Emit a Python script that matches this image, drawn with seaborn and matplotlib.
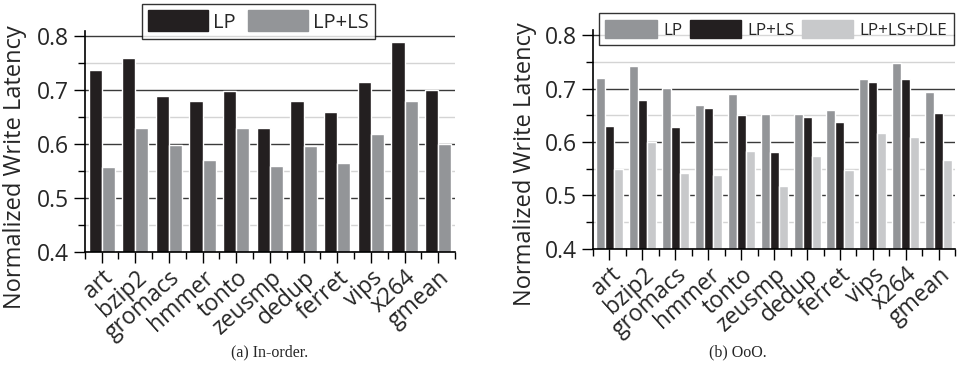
import pandas as pd
import matplotlib.pyplot as plt
import seaborn as sns
from matplotlib.patches import Patch
from matplotlib.ticker import MultipleLocator

benchmarks = ['art', 'bzip2', 'gromacs', 'hmmer', 'tonto', 'zeusmp',
              'dedup', 'ferret', 'vips', 'x264', 'gmean']

# (a) In-order
inorder_lp = [0.737, 0.760, 0.689, 0.680, 0.698, 0.630, 0.679, 0.659, 0.715, 0.790, 0.701]
inorder_lpls = [0.557, 0.630, 0.599, 0.571, 0.630, 0.560, 0.597, 0.564, 0.619, 0.680, 0.600]

# (b) OoO
ooo_lp = [0.720, 0.742, 0.701, 0.669, 0.689, 0.652, 0.652, 0.659, 0.718, 0.748, 0.694]
ooo_lpls = [0.630, 0.679, 0.628, 0.664, 0.651, 0.581, 0.647, 0.637, 0.712, 0.717, 0.654]
ooo_dle = [0.550, 0.600, 0.542, 0.538, 0.583, 0.517, 0.574, 0.548, 0.616, 0.610, 0.567]

BLACK = '#231f20'
GRAY = '#939598'
LIGHT = '#c8c9cb'


def long_form(series):
    rows = []
    for name, vals in series.items():
        for b, v in zip(benchmarks, vals):
            rows.append({'bench': b, 'config': name, 'value': v})
    return pd.DataFrame(rows)


sns.set_style('white')
plt.rcParams['font.family'] = ['Open Sans', 'DejaVu Sans']


def style_axes(ax):
    ax.set_ylim(0.4, 0.81)
    ax.set_xlim(-0.5, len(benchmarks) - 0.5)
    ax.yaxis.set_major_locator(MultipleLocator(0.1))
    ax.yaxis.set_minor_locator(MultipleLocator(0.05))
    ax.set_yticks([0.4, 0.5, 0.6, 0.7, 0.8])
    ax.set_yticklabels(['0.4', '0.5', '0.6', '0.7', '0.8'], fontsize=16.5)
    ax.set_xticks(range(len(benchmarks)))
    ax.set_xticks([i - 0.5 for i in range(len(benchmarks) + 1)], minor=True)
    ax.set_xticklabels(benchmarks, rotation=42, ha='right', rotation_mode='anchor',
                       fontsize=16.5)
    ax.tick_params(axis='both', which='major', direction='out', length=8, width=1,
                   color='black', bottom=True, left=True)
    ax.tick_params(axis='x', which='major', pad=2)
    ax.tick_params(axis='both', which='minor', direction='out', length=5, width=1,
                   color='black', bottom=True, left=True)
    ax.grid(False)
    ax.grid(axis='y', which='major', color='#3a3a3a', linewidth=1.0)
    ax.grid(axis='y', which='minor', color='#d4d4d4', linewidth=1.0)
    ax.set_axisbelow(True)
    for s in ['top', 'right']:
        ax.spines[s].set_visible(False)
    for s in ['left', 'bottom']:
        ax.spines[s].set_color('black')
        ax.spines[s].set_linewidth(1.2)
    ax.set_xlabel('')
    ax.set_ylabel('Normalized Write Latency', fontsize=17)


fig = plt.figure(figsize=(9.64, 3.76), dpi=100)

# left panel
ax1 = fig.add_axes([0.088, 0.330, 0.384, 0.588])
df1 = long_form({'LP': inorder_lp, 'LP+LS': inorder_lpls})
sns.barplot(data=df1, x='bench', y='value', hue='config', order=benchmarks,
            palette=[BLACK, GRAY], width=0.78, saturation=1, ax=ax1, legend=False)
style_axes(ax1)
ax1.yaxis.set_label_coords(-0.155, 0.385)
leg1 = fig.legend(handles=[Patch(color=BLACK, label='LP'), Patch(color=GRAY, label='LP+LS')],
                  loc='upper left', bbox_to_anchor=(0.147, 0.989), ncol=2, fontsize=14.5,
                  frameon=True, fancybox=False, handlelength=3.0, handleheight=1.25,
                  columnspacing=0.6, handletextpad=0.25, borderpad=0.3, borderaxespad=0)
leg1.get_frame().set_edgecolor('black')
leg1.get_frame().set_linewidth(1.0)

# right panel
ax2 = fig.add_axes([0.615, 0.338, 0.376, 0.583])
df2 = long_form({'LP': ooo_lp, 'LP+LS': ooo_lpls, 'LP+LS+DLE': ooo_dle})
sns.barplot(data=df2, x='bench', y='value', hue='config', order=benchmarks,
            palette=[GRAY, BLACK, LIGHT], width=0.82, saturation=1, ax=ax2, legend=False)
style_axes(ax2)
ax2.yaxis.set_label_coords(-0.155, 0.385)
leg2 = fig.legend(handles=[Patch(color=GRAY, label='LP'), Patch(color=BLACK, label='LP+LS'),
                           Patch(color=LIGHT, label='LP+LS+DLE')],
                  loc='upper left', bbox_to_anchor=(0.621, 0.965), ncol=3, fontsize=12.3,
                  frameon=True, fancybox=False, handlelength=3.0, handleheight=1.2,
                  columnspacing=0.4, handletextpad=0.4, borderpad=0.4, borderaxespad=0)
leg2.get_frame().set_edgecolor('black')
leg2.get_frame().set_linewidth(1.0)

fig.text(0.280, 0.062, '(a) In-order.', ha='center', va='center', fontsize=11.5,
         family='Liberation Serif')
fig.text(0.765, 0.062, '(b) OoO.', ha='center', va='center', fontsize=11.5,
         family='Liberation Serif')

fig.savefig('out.png', dpi=100)
